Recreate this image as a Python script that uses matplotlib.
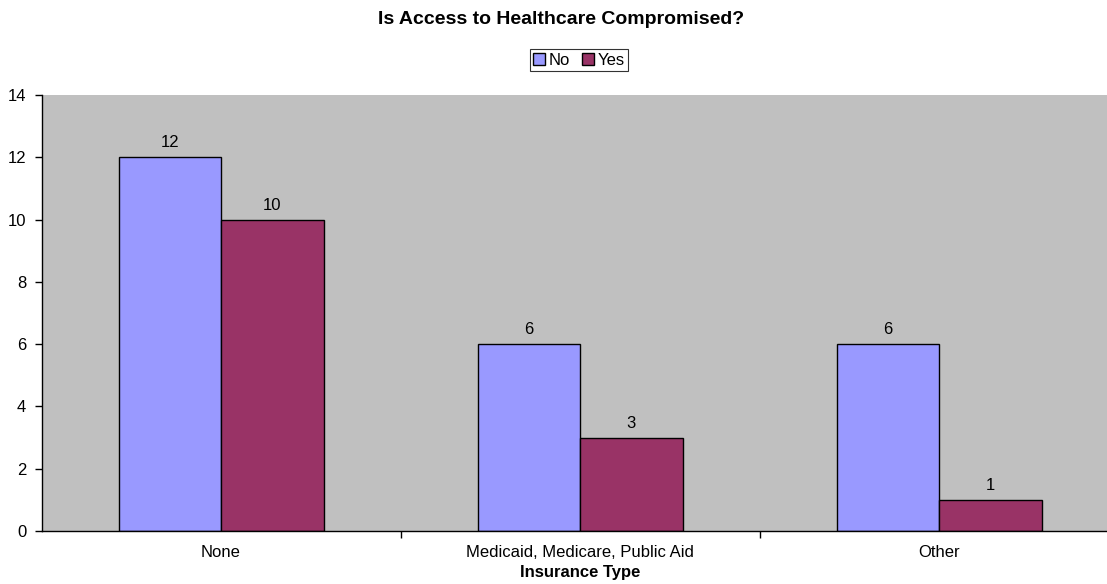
import numpy as np
import matplotlib.pyplot as plt

plt.rcParams['font.family'] = ['Liberation Sans', 'DejaVu Sans']

categories = ['None', 'Medicaid, Medicare, Public Aid', 'Other']
no_vals = [12, 6, 6]
yes_vals = [10, 3, 1]

fig = plt.figure(figsize=(11.07, 5.84), dpi=100)
# plot area runs a little past the right edge of the figure
ax = fig.add_axes([0.0375, 0.0908, 0.973, 0.7466])
ax.set_facecolor('#C0C0C0')

x = np.arange(len(categories))
w = 0.2855
b1 = ax.bar(x - w / 2, no_vals, w, color='#9999FF', edgecolor='black', linewidth=1.0, label='No')
b2 = ax.bar(x + w / 2, yes_vals, w, color='#993366', edgecolor='black', linewidth=1.0, label='Yes')
ax.bar_label(b1, padding=5, fontsize=12)
ax.bar_label(b2, padding=5, fontsize=12)

ax.set_xlim(-0.5, 2.5)
ax.set_ylim(0, 14)
ax.set_yticks(range(0, 15, 2))
ax.set_xticks([0.5, 1.5])
ax.set_xticklabels([])
ax.set_xticks(x, minor=True)
ax.set_xticklabels(categories, minor=True, fontsize=12)
ax.tick_params(axis='x', which='minor', length=0, pad=10)
ax.tick_params(axis='x', which='major', length=5, width=1)
ax.tick_params(axis='y', length=5, width=1, labelsize=12, pad=6)

for s in ['top', 'right']:
    ax.spines[s].set_visible(False)
for s in ['left', 'bottom']:
    ax.spines[s].set_linewidth(1.0)

ax.set_xlabel('Insurance Type', fontsize=12, fontweight='bold', labelpad=4)
fig.text(0.507, 0.966, 'Is Access to Healthcare Compromised?', ha='center', va='center',
         fontsize=14, fontweight='bold')

leg = fig.legend(handles=[b1, b2], loc='center', bbox_to_anchor=(0.523, 0.897), ncol=2,
                 fontsize=12, frameon=True, fancybox=False, edgecolor='black',
                 handlelength=0.7, handleheight=0.7, handletextpad=0.25, columnspacing=0.7,
                 borderpad=0.2, borderaxespad=0)
leg.get_frame().set_linewidth(0.8)

fig.savefig('out.png', dpi=100)
